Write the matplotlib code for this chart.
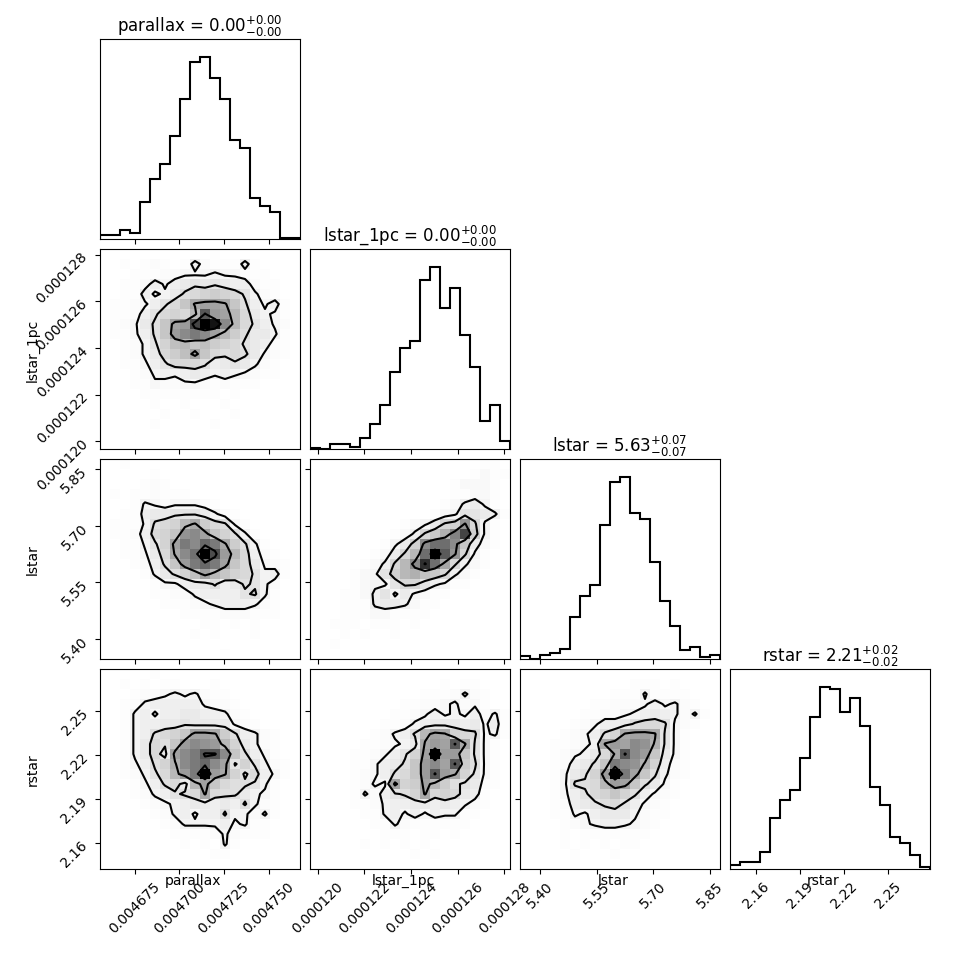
import numpy as np
import matplotlib
matplotlib.use("Agg")
import matplotlib.pyplot as plt
from matplotlib.colors import ListedColormap

# parameter names, titles and plotted ranges
labels = ["parallax", "lstar_1pc", "lstar", "rstar"]
titles = [r"parallax = $0.00_{-0.00}^{+0.00}$",
          r"lstar_1pc = $0.00_{-0.00}^{+0.00}$",
          r"lstar = $5.63_{-0.07}^{+0.07}$",
          r"rstar = $2.21_{-0.02}^{+0.02}$"]
ranges = [(0.0046556, 0.0047676), (0.00011967, 0.00012824),
          (5.347, 5.8765), (2.1425, 2.2786)]
ticks = [[0.004675, 0.004700, 0.004725, 0.004750],
         [0.000120, 0.000122, 0.000124, 0.000126, 0.000128],
         [5.40, 5.55, 5.70, 5.85],
         [2.16, 2.19, 2.22, 2.25]]
tick_labels = [["0.004675", "0.004700", "0.004725", "0.004750"],
               ["0.000120", "0.000122", "0.000124", "0.000126", "0.000128"],
               ["5.40", "5.55", "5.70", "5.85"],
               ["2.16", "2.19", "2.22", "2.25"]]

# 1D histogram counts (20 bins each)
hist_parallax = [12, 12, 28, 19, 110, 180, 225, 309, 417, 530, 543, 480, 417, 297, 271, 123, 100, 80, 4, 4]
hist_lstar_1pc = [4, 0, 14, 14, 5, 32, 74, 131, 230, 303, 323, 507, 545, 422, 483, 341, 247, 84, 131, 25]
hist_lstar = [9, 1, 12, 18, 31, 125, 188, 221, 402, 530, 545, 437, 419, 290, 175, 98, 26, 36, 5, 12]
hist_rstar = [12, 21, 21, 50, 153, 207, 236, 334, 456, 546, 542, 470, 513, 428, 245, 191, 96, 77, 43, 6]
hists = [hist_parallax, hist_lstar_1pc, hist_lstar, hist_rstar]

# 2D histogram counts, 20x20, top row first, one base-36 digit per bin
grid_parallax_lstar_1pc = [
    "00000000000100000000", "00101210152111510000", "00011122333433211000",
    "00112535676765521100", "0011534689aba9742100", "01123579cghhgc853510",
    "0112579a9eqihe964310", "012368chiszxke975320", "011358cikmkheb866410",
    "001247adecdba9765210", "0012469bdhc989863210", "00113579998567642100",
    "00012454565454321100", "00011322332121110000", "00001111111101000000",
    "00000100100010000000", "00000010010001000000", "00000100000100000000",
    "00000000000000000000", "00000000000000000000"]
grid_parallax_lstar = [
    "00100000000000000000", "00000100000000000000", "00001210000000000000",
    "01011211100000000000", "00014323332100000000", "00115667776421000000",
    "0111489aegb983100000", "011259acjkhca8410000", "001147ahmkomgb841000",
    "0011369gknzrie952100", "0001258cimomhc963210", "00001468adheca974510",
    "00000133566856874200", "00000112245555784100", "00000011123455542100",
    "00000000111122211100", "00000000001101010000", "00000000010100010000",
    "00000000000000000000", "00000000000010000000"]
grid_lstar_1pc_lstar = [
    "00000000000000000110", "00000000000000001211", "00000000000000122210",
    "00000000000000112210", "00000000000001245310", "00000000000012366541",
    "000000000123589g8310", "000000001248adio9310", "00000001359hkkha5210",
    "0000001258ckumg83100", "000001248chqke842100", "000012369cdba8421000",
    "00001233688643110000", "00011246353211000000", "00011145542110000000",
    "00011122111100000000", "00111011101000000000", "00010100100000000000",
    "00100000000000000000", "00000000000000000000"]
grid_parallax_rstar = [
    "00000100000000000000", "00101011000100000000", "00012234342110000000",
    "00124555553221000000", "00145355665542100000", "00145566766663210000",
    "0014589achhgb8542100", "0014698cikjiea642100", "0014696hkmqqkc853100",
    "001358afkmokh7a74210", "0012479eimziga795310", "000135896ehc98874100",
    "0001245789g988643100", "00001234566565842100", "00000124535584424100",
    "00000012444453411000", "00000001111242111000", "00000000101041000000",
    "00000000000110000000", "00000000000000000000"]
grid_lstar_1pc_rstar = [
    "00000000000000000000", "00000000000001011000", "00000000000111242100",
    "00000000011223423100", "00000000112353435241", "00000001124566656351",
    "00000012458ehga98341", "00000112346gihqg7310", "0000112357ahziic7310",
    "0000113568cikhqb8310", "0000123589ciqiga7310", "00001243habheb876210",
    "0000142578ag9a965100", "00001124556656542100", "00000114535354411000",
    "00000011421111110000", "00000001110110100000", "00000101010100000000",
    "00000000001010000000", "00000000000000000000"]
grid_lstar_rstar = [
    "00000000000000000000", "00000000000111010000", "00000000011141111000",
    "00000001122235342100", "00000011223456542410", "00000123556899832100",
    "000012358aghhg731000", "00011234gihkjf731000", "000123469gqkic631000",
    "00012568cmkjfa521000", "0001367aizmhc8421000", "00013889eihc86310000",
    "00013579aca853210000", "00012567897532100000", "00011435666421100000",
    "00001234554321000000", "00001011111110000000", "00001010101100000000",
    "00000100010000000000", "00000100000000000000"]
grids = {(1, 0): grid_parallax_lstar_1pc, (2, 0): grid_parallax_lstar,
         (2, 1): grid_lstar_1pc_lstar, (3, 0): grid_parallax_rstar,
         (3, 1): grid_lstar_1pc_rstar, (3, 2): grid_lstar_rstar}

contour_levels = [3.5, 7.5, 15.5, 25.5]
nbins = 20
K = len(labels)

# white -> black, a bit lighter than linear in the faint bins
shade = 1 - np.linspace(0, 1, 256) ** 1.4
density_cmap = ListedColormap(np.column_stack([shade, shade, shade]))

fig, axes = plt.subplots(K, K, figsize=(9.7, 9.7))
fig.subplots_adjust(left=1 / 9.7, bottom=1 / 9.7, right=9.3 / 9.7, top=9.3 / 9.7,
                    wspace=0.05, hspace=0.05)

edges = [np.linspace(r[0], r[1], nbins + 1) for r in ranges]

for i in range(K):
    for j in range(K):
        ax = axes[i, j]
        if j > i:
            ax.set_frame_on(False)
            ax.set_xticks([])
            ax.set_yticks([])
            continue
        if i == j:
            counts = np.array(hists[i], dtype=float)
            ax.stairs(counts, edges[i], color="k", lw=1.5)
            ax.set_ylim(0, 1.1 * counts.max())
            ax.set_yticks([])
            ax.set_title(titles[i], fontsize=12)
        else:
            H = np.array([[int(c, 36) for c in row] for row in grids[(i, j)]], dtype=float)[::-1]
            xe, ye = edges[j], edges[i]
            ax.pcolormesh(xe, ye, H, cmap=density_cmap, vmin=0, vmax=H.max(), shading="flat")
            # contour on bin centres, padded with empty bins
            xc = 0.5 * (xe[1:] + xe[:-1])
            yc = 0.5 * (ye[1:] + ye[:-1])
            dx, dy = xc[1] - xc[0], yc[1] - yc[0]
            xc2 = np.concatenate([[xc[0] - dx], xc, [xc[-1] + dx]])
            yc2 = np.concatenate([[yc[0] - dy], yc, [yc[-1] + dy]])
            H2 = np.pad(H, 1)
            ax.contour(xc2, yc2, H2, contour_levels, colors="k", linewidths=1.5)
            ax.set_ylim(ranges[i])
            ax.set_yticks(ticks[i])
            if j == 0:
                ax.set_yticklabels(tick_labels[i], rotation=45)
                ax.set_ylabel(labels[i])
                ax.yaxis.set_label_coords(-0.3, 0.5)
            else:
                ax.set_yticklabels([])
        ax.set_xlim(ranges[j])
        ax.set_xticks(ticks[j])
        if i == K - 1:
            ax.set_xticklabels(tick_labels[j], rotation=45)
            ax.set_xlabel(labels[j])
            ax.xaxis.set_label_coords(0.465, -0.02)
        else:
            ax.set_xticklabels([])

fig.savefig("out.png", dpi=100)
